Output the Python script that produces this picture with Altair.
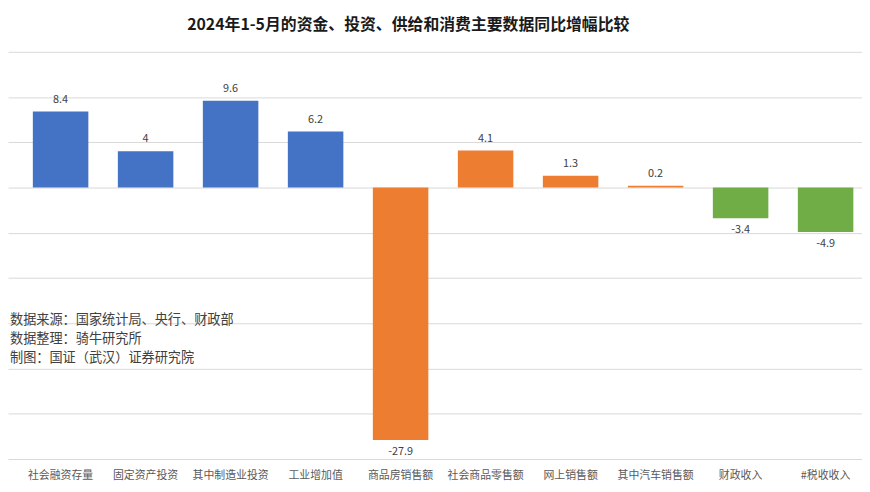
import altair as alt
import pandas as pd

# ---- data ----
categories = ["社会融资存量", "固定资产投资", "其中制造业投资", "工业增加值",
              "商品房销售额", "社会商品零售额", "网上销售额", "其中汽车销售额", "财政收入", "#税收收入"]
values = [8.4, 4, 9.6, 6.2, -27.9, 4.1, 1.3, 0.2, -3.4, -4.9]
groups = ["资金、投资、供给"] * 4 + ["消费"] * 4 + ["财政"] * 2
group_names = ["资金、投资、供给", "消费", "财政"]
group_colors = ["#4472C4", "#ED7D31", "#70AD47"]
y_ticks = [-30, -25, -20, -15, -10, -5, 0, 5, 10, 15]
title_text = "2024年1-5月的资金、投资、供给和消费主要数据同比增幅比较"
notes = ["数据来源：国家统计局、央行、财政部", "数据整理：骑牛研究所", "制图：国证（武汉）证券研究院"]

FONT = "Noto Sans CJK SC"
W, H = 868, 411

df = pd.DataFrame({"category": categories, "value": values, "group": groups})

base = alt.Chart(df).transform_calculate(label="'' + datum.value")

x_enc = alt.X(
    "category:N", sort=categories,
    scale=alt.Scale(paddingInner=0.347, paddingOuter=0.232, align=0.63),
    axis=alt.Axis(title=None, labelAngle=0, labelFontSize=11, labelColor="#595959",
                  labelFont=FONT, ticks=False, tickSize=0, domain=False, labelPadding=11,
                  grid=False),
)
y_enc = alt.Y(
    "value:Q",
    scale=alt.Scale(domain=[-30, 15], nice=False, zero=False),
    axis=alt.Axis(values=y_ticks, labels=False, ticks=False, domain=False, title=None,
                  grid=True, gridColor="#D9D9D9", gridWidth=1),
)

bars = base.mark_bar().encode(
    x=x_enc, y=y_enc,
    color=alt.Color("group:N", scale=alt.Scale(domain=group_names, range=group_colors), legend=None),
)

pos_labels = base.transform_filter("datum.value >= 0").mark_text(
    dy=-12, fontSize=11, color="#404040", font=FONT, baseline="middle"
).encode(x=alt.X("category:N", sort=categories), y="value:Q", text="label:N")

neg_labels = base.transform_filter("datum.value < 0").mark_text(
    dy=12, fontSize=11, color="#404040", font=FONT, baseline="middle"
).encode(x=alt.X("category:N", sort=categories), y="value:Q", text="label:N")

note_layer = alt.Chart(pd.DataFrame({"note": ["\n".join(notes)]})).mark_text(
    align="left", baseline="top", fontSize=13.3, color="#404040", font=FONT,
    lineBreak="\n", lineHeight=19,
).encode(text="note:N", x=alt.value(2), y=alt.value(264))

title_layer = alt.Chart(pd.DataFrame({"t": [title_text]})).mark_text(
    align="center", baseline="middle", fontSize=16, fontWeight="bold", color="#1a1a1a", font=FONT,
).encode(text="t:N", x=alt.value(404), y=alt.value(-27))

chart = alt.layer(bars, pos_labels, neg_labels, note_layer, title_layer).properties(
    width=W, height=H,
    autosize=alt.AutoSizeParams(type="none"),
    padding={"left": 0, "top": 42, "right": -6, "bottom": 24},
    background="white",
).configure_view(stroke=None)

chart.save("out.html", embed_options={"renderer": "svg", "actions": False})
